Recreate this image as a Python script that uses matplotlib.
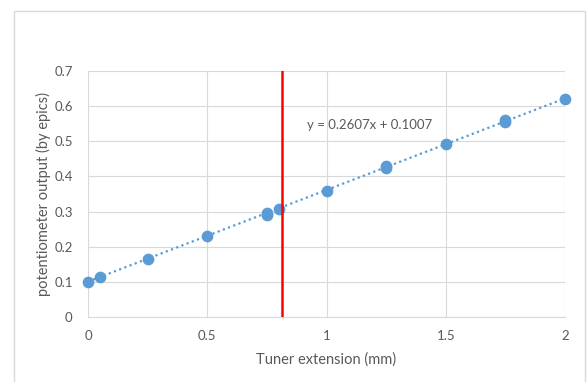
import matplotlib
matplotlib.use("Agg")
import matplotlib.pyplot as plt
from matplotlib.patches import Rectangle
import numpy as np

plt.rcParams['font.family'] = ['Lato', 'DejaVu Sans']

x_vals = [0.0, 0.05, 0.25, 0.5, 0.75, 0.75, 0.8, 1.0, 1.25, 1.25, 1.5, 1.75, 1.75, 2.0]
y_vals = [0.100, 0.113, 0.166, 0.230, 0.290, 0.297, 0.306, 0.359, 0.424, 0.430, 0.492, 0.555, 0.560, 0.620]
slope = 0.2607
intercept = 0.1007
red_x = 0.815
x_ticks = [0, 0.5, 1, 1.5, 2]
x_tick_labels = ['0', '0.5', '1', '1.5', '2']
y_ticks = [0, 0.1, 0.2, 0.3, 0.4, 0.5, 0.6, 0.7]
y_tick_labels = ['0', '0.1', '0.2', '0.3', '0.4', '0.5', '0.6', '0.7']
eq_text = 'y = 0.2607x + 0.1007'

fig = plt.figure(figsize=(5.87, 3.82), dpi=100)
fig.patch.set_facecolor('white')
# outer chart border
fig.add_artist(Rectangle((13.5/587, -0.05), (585-13.5)/587, 1.05 - 11/382,
                         transform=fig.transFigure, fill=False,
                         edgecolor='#d9d9d9', linewidth=1.0))

ax = fig.add_axes([88/587, 1-317/382, (565-88)/587, (317-71)/382])
ax.set_xlim(0, 2)
ax.set_ylim(0, 0.7)
ax.set_xticks(x_ticks)
ax.set_xticklabels(x_tick_labels)
ax.set_yticks(y_ticks)
ax.set_yticklabels(y_tick_labels)
ax.grid(True, color='#d9d9d9', linewidth=0.8)
ax.set_axisbelow(True)
for s in ['top', 'right', 'left']:
    ax.spines[s].set_visible(False)
ax.spines['bottom'].set_color('#d9d9d9')
ax.tick_params(axis='x', length=0, labelsize=9.5, colors='#595959', pad=9)
ax.tick_params(axis='y', length=0, labelsize=9.5, colors='#595959', pad=11)

xs = np.array([0, 2])
ax.plot(xs, slope*xs + intercept, linestyle=(0, (1, 1.5)), color='#5b9bd5', linewidth=1.6, zorder=2)
ax.scatter(x_vals, y_vals, s=55, color='#5b9bd5', zorder=3, clip_on=False)
ax.plot([red_x, red_x], [0, 0.7], color='#ff0000', linewidth=1.8, zorder=4)

ax.text(0.92, 0.546, eq_text, fontsize=9.5, color='#595959', va='center', ha='left')

ax.set_xlabel('Tuner extension (mm)', fontsize=10.5, color='#595959', labelpad=8)
ax.set_ylabel('potentiometer output (by epics)', fontsize=10.5, color='#595959', labelpad=2)

fig.savefig('out.png', dpi=100)
